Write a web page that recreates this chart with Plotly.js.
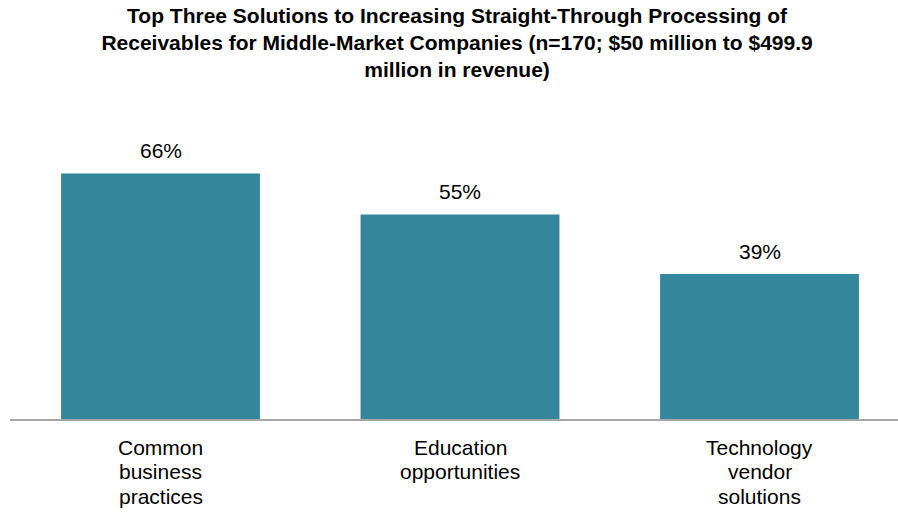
<!DOCTYPE html>
<html>
<head>
<meta charset="utf-8">
<script src="https://cdn.plot.ly/plotly-3.0.1.min.js"></script>
<style>html,body{margin:0;padding:0;background:#fff;}#chart{width:898px;height:512px;}</style>
</head>
<body>
<div id="chart"></div>
<script>
const categories = ["Common business practices", "Education opportunities", "Technology vendor solutions"];
const categoryLines = [["Common", "business", "practices"], ["Education", "opportunities"], ["Technology", "vendor", "solutions"]];
const values = [66, 55, 39];
const valueLabels = ["66%", "55%", "39%"];
const chartTitle = "Top Three Solutions to Increasing Straight-Through Processing of<br>Receivables for Middle-Market Companies (n=170; $50 million to $499.9<br>million in revenue)";

const font = "Liberation Sans, Arial, sans-serif";

const trace = {
  type: "bar",
  x: categories,
  y: values,
  marker: {color: "#33869c"},
  hoverinfo: "skip"
};

const annotations = categories.map((c, i) => ({
  x: c, y: values[i], xref: "x", yref: "y",
  text: valueLabels[i], showarrow: false,
  yanchor: "bottom", yshift: 9,
  font: {family: font, size: 21, color: "#000"}
}));

categories.forEach((c, i) => {
  categoryLines[i].forEach((line, j) => {
    annotations.push({
      x: c, y: 0, xref: "x", yref: "y",
      text: line, showarrow: false,
      yanchor: "middle", yshift: -(28 + j * 24.5),
      font: {family: font, size: 21, color: "#000"}
    });
  });
});

const layout = {
  width: 898, height: 512,
  margin: {l: 10, r: 0, t: 100, b: 93},
  paper_bgcolor: "#fff", plot_bgcolor: "#fff",
  showlegend: false,
  bargap: 0.336,
  title: {
    text: chartTitle,
    x: 0.509, xanchor: "center", xref: "container",
    y: 0.956, yanchor: "middle", yref: "container",
    font: {family: font, size: 21, color: "#000", weight: "bold"}
  },
  xaxis: {
    type: "category",
    range: [-0.5025, 2.4624],
    showline: true, linecolor: "#a6a6a6", linewidth: 2,
    ticks: "", showticklabels: false,
    showgrid: false, zeroline: false, fixedrange: true
  },
  yaxis: {
    range: [0, 85.75],
    visible: false, showgrid: false, zeroline: false, fixedrange: true
  },
  annotations: annotations
};

Plotly.newPlot("chart", [trace], layout, {displayModeBar: false, staticPlot: true});
</script>
</body>
</html>
